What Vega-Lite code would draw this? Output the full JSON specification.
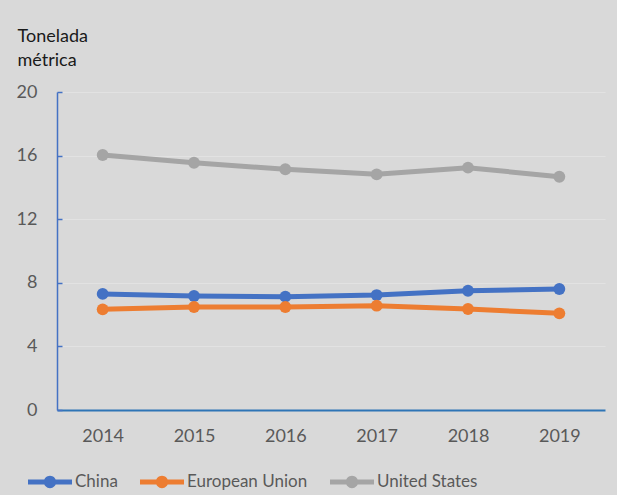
{
  "$schema": "https://vega.github.io/schema/vega-lite/v6.json",
  "width": 548,
  "height": 318,
  "autosize": {"type": "none"},
  "padding": {"left": 57, "top": 92, "right": 12, "bottom": 85},
  "background": "#d9d9d9",
  "config": {
    "view": {"stroke": null},
    "font": "Lato"
  },
  "data": {
    "values": [
      {"year": "2014", "region": "China", "value": 7.30},
      {"year": "2015", "region": "China", "value": 7.17},
      {"year": "2016", "region": "China", "value": 7.13},
      {"year": "2017", "region": "China", "value": 7.23},
      {"year": "2018", "region": "China", "value": 7.50},
      {"year": "2019", "region": "China", "value": 7.61},
      {"year": "2014", "region": "European Union", "value": 6.33},
      {"year": "2015", "region": "European Union", "value": 6.48},
      {"year": "2016", "region": "European Union", "value": 6.48},
      {"year": "2017", "region": "European Union", "value": 6.56},
      {"year": "2018", "region": "European Union", "value": 6.35},
      {"year": "2019", "region": "European Union", "value": 6.08},
      {"year": "2014", "region": "United States", "value": 16.04},
      {"year": "2015", "region": "United States", "value": 15.55},
      {"year": "2016", "region": "United States", "value": 15.14},
      {"year": "2017", "region": "United States", "value": 14.82},
      {"year": "2018", "region": "United States", "value": 15.24},
      {"year": "2019", "region": "United States", "value": 14.67}
    ]
  },
  "encoding": {
    "x": {
      "field": "year",
      "type": "ordinal",
      "scale": {"type": "point", "padding": 0.5},
      "axis": {
        "title": null,
        "labelAngle": 0,
        "ticks": false,
        "grid": false,
        "domainColor": "#2e75b6",
        "domainWidth": 2,
        "labelColor": "#595959",
        "labelFontSize": 18,
        "labelPadding": 17
      }
    },
    "y": {
      "field": "value",
      "type": "quantitative",
      "scale": {"domain": [0, 20], "nice": false},
      "axis": {
        "values": [0, 4, 8, 12, 16, 20],
        "title": ["Tonelada", "métrica"],
        "titleAngle": 0,
        "titleAlign": "left",
        "titleBaseline": "top",
        "titleX": -40,
        "titleY": -65,
        "titleFontSize": 18,
        "titleFontWeight": "normal",
        "titleColor": "#1a1a1a",
        "titleLineHeight": 24,
        "domainColor": "#4472c4",
        "domainWidth": 1.5,
        "tickColor": "#4472c4",
        "tickSize": -5,
        "tickWidth": 1.5,
        "labelColor": "#595959",
        "labelFontSize": 18,
        "labelPadding": 25,
        "gridColor": "#e2e2e2",
        "gridWidth": 1
      }
    },
    "color": {
      "field": "region",
      "type": "nominal",
      "scale": {
        "domain": ["China", "European Union", "United States"],
        "range": ["#4472c4", "#ed7d31", "#a5a5a5"]
      },
      "legend": {
        "title": null,
        "orient": "none",
        "direction": "horizontal",
        "legendX": -29,
        "legendY": 368,
        "symbolType": "M-1,-0.11H1V0.11H-1Z M0.28,0A0.28,0.28,0,1,1,-0.28,0A0.28,0.28,0,1,1,0.28,0Z",
        "symbolSize": 1936,
        "symbolStrokeWidth": 0,
        "labelFontSize": 17,
        "labelColor": "#595959",
        "labelOffset": 3,
        "columnPadding": 22,
        "encode": {
          "symbols": {"update": {"fill": {"scale": "color", "field": "value"}, "opacity": {"value": 1}}}
        }
      }
    }
  },
  "layer": [
    {"mark": {"type": "line", "strokeWidth": 5}},
    {"mark": {"type": "point", "filled": true, "size": 140, "opacity": 1}}
  ]
}
